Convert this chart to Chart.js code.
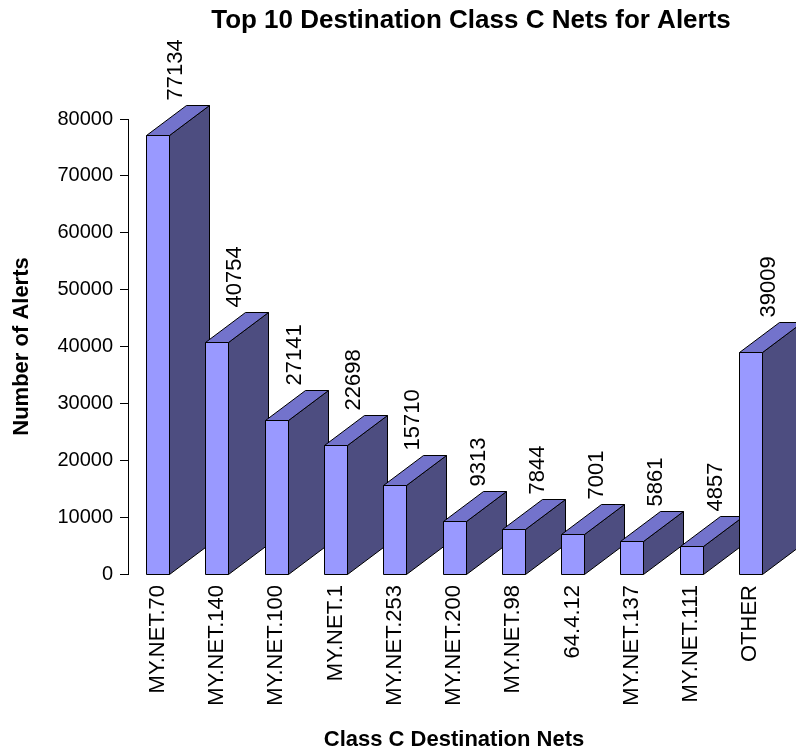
<!DOCTYPE html>
<html>
<head>
<meta charset="utf-8">
<script src="https://cdn.jsdelivr.net/npm/chart.js@4/dist/chart.umd.min.js"></script>
<style>
  html, body { margin: 0; padding: 0; background: #fff; }
  #wrap { width: 796px; height: 753px; position: relative; }
</style>
</head>
<body>
<div id="wrap"><canvas id="alertChart"></canvas></div>
<script>
// chart data
const netLabels = ['MY.NET.70', 'MY.NET.140', 'MY.NET.100', 'MY.NET.1', 'MY.NET.253',
                   'MY.NET.200', 'MY.NET.98', '64.4.12', 'MY.NET.137', 'MY.NET.111', 'OTHER'];
const alertCounts = [77134, 40754, 27141, 22698, 15710, 9313, 7844, 7001, 5861, 4857, 39009];
const yTicks = [0, 10000, 20000, 30000, 40000, 50000, 60000, 70000, 80000];

const chartTitle = 'Top 10 Destination Class C Nets for Alerts';
const FONT = "'Liberation Sans', Arial, sans-serif";

// 3d look for the bars
const depthX = 40, depthY = 30;
const frontColor = '#9999ff';
const topColor = '#7373cc';
const sideColor = '#4d4d80';

const bars3d = {
    id: 'bars3d',
    afterDatasetsDraw(chart) {
        const ctx = chart.ctx;
        const meta = chart.getDatasetMeta(0);
        ctx.save();
        ctx.lineWidth = 1;
        ctx.strokeStyle = '#000';
        ctx.font = '22px ' + FONT;
        const fullW = ctx.measureText('00000').width;
        meta.data.forEach((bar, i) => {
            const p = bar.getProps(['x', 'y', 'base', 'width'], true);
            const l = Math.round(p.x - p.width / 2) + 0.5;
            const r = Math.round(p.x + p.width / 2) + 0.5;
            const t = Math.round(p.y) + 0.5;
            const b = Math.round(p.base) + 0.5;

            // side
            ctx.beginPath();
            ctx.moveTo(r, t);
            ctx.lineTo(r + depthX, t - depthY);
            ctx.lineTo(r + depthX, b - depthY);
            ctx.lineTo(r, b);
            ctx.closePath();
            ctx.fillStyle = sideColor;
            ctx.fill();
            ctx.stroke();

            // top
            ctx.beginPath();
            ctx.moveTo(l, t);
            ctx.lineTo(l + depthX, t - depthY);
            ctx.lineTo(r + depthX, t - depthY);
            ctx.lineTo(r, t);
            ctx.closePath();
            ctx.fillStyle = topColor;
            ctx.fill();
            ctx.stroke();

            // front
            ctx.beginPath();
            ctx.rect(l, t, r - l, b - t);
            ctx.fillStyle = frontColor;
            ctx.fill();
            ctx.stroke();

            // value label, rotated (shorter labels sit a bit further right)
            const txt = String(alertCounts[i]);
            const w = ctx.measureText(txt).width;
            ctx.save();
            ctx.translate(r + 6 + (fullW - w) / 2, t - depthY - 5);
            ctx.rotate(-Math.PI / 2);
            ctx.fillStyle = '#000';
            ctx.textAlign = 'left';
            ctx.textBaseline = 'middle';
            ctx.fillText(txt, 0, 0);
            ctx.restore();
        });
        ctx.restore();
    },
    afterDraw(chart) {
        const ctx = chart.ctx;
        ctx.save();
        ctx.fillStyle = '#000';
        ctx.font = 'bold 26px ' + FONT;
        ctx.textAlign = 'center';
        ctx.textBaseline = 'alphabetic';
        ctx.fillText(chartTitle, 471, 28);
        ctx.restore();
    }
};

new Chart(document.getElementById('alertChart'), {
    type: 'bar',
    data: {
        labels: netLabels,
        datasets: [{
            data: alertCounts,
            backgroundColor: 'rgba(0,0,0,0)',
            borderWidth: 0,
            barThickness: 23
        }]
    },
    options: {
        responsive: true,
        maintainAspectRatio: false,
        animation: false,
        layout: {
            padding: { top: 119, right: 16, bottom: 0, left: 0 }
        },
        plugins: {
            legend: { display: false },
            tooltip: { enabled: false },
            title: { display: false }
        },
        scales: {
            x: {
                grid: { display: false, drawTicks: false },
                border: { display: false },
                ticks: {
                    autoSkip: false,
                    maxRotation: 90,
                    minRotation: 90,
                    padding: 11,
                    color: '#000',
                    font: { size: 22, family: FONT }
                },
                title: {
                    display: true,
                    text: 'Class C Destination Nets',
                    color: '#000',
                    font: { size: 22, weight: 'bold', family: FONT },
                    padding: { top: 0, bottom: 0 }
                },
                afterFit(scale) { scale.height = 179; }
            },
            y: {
                min: 0,
                max: 80000,
                afterBuildTicks(scale) {
                    scale.ticks = yTicks.map(v => ({ value: v }));
                },
                grid: {
                    display: true,
                    drawOnChartArea: false,
                    drawTicks: true,
                    tickLength: 8,
                    color: '#000'
                },
                border: { display: true, color: '#000', width: 1 },
                ticks: {
                    padding: 7,
                    color: '#000',
                    font: { size: 20, family: FONT },
                    callback: (v) => String(v)
                },
                title: {
                    display: true,
                    text: 'Number of Alerts',
                    color: '#000',
                    font: { size: 22, weight: 'bold', family: FONT },
                    padding: { top: 9, bottom: 0 }
                },
                afterFit(scale) { scale.width = 128; }
            }
        }
    },
    plugins: [bars3d]
});
</script>
</body>
</html>
